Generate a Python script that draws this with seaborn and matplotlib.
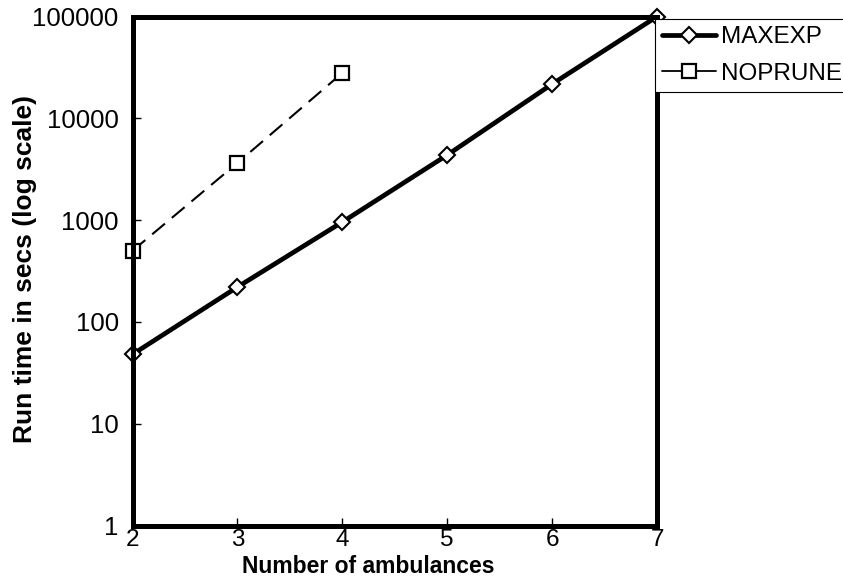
import matplotlib
matplotlib.use("Agg")
import matplotlib.pyplot as plt
from matplotlib.lines import Line2D
import seaborn as sns
import pandas as pd

# Run times (seconds) versus fleet size
ambulances_maxexp = [2, 3, 4, 5, 6, 7]
maxexp_times = [48, 220, 957, 4360, 21700, 100000]
ambulances_noprune = [2, 3, 4]
noprune_times = [500, 3640, 27900]
x_ticks = [2, 3, 4, 5, 6, 7]
y_ticks = [1, 10, 100, 1000, 10000, 100000]

sns.set_theme(style="white")
plt.rcParams["font.family"] = ["Liberation Sans", "DejaVu Sans"]
for key in ("text.color", "axes.labelcolor", "xtick.color", "ytick.color"):
    plt.rcParams[key] = "black"

df_max = pd.DataFrame({"n": ambulances_maxexp, "t": maxexp_times})
df_nop = pd.DataFrame({"n": ambulances_noprune, "t": noprune_times})

fig = plt.figure(figsize=(8.43, 5.81), dpi=100)
ax = fig.add_axes([0.1572, 0.0955, 0.6222, 0.8761])

sns.lineplot(data=df_max, x="n", y="t", ax=ax, color="black", linewidth=3.4,
             marker="D", markersize=8, markerfacecolor="white",
             markeredgecolor="black", markeredgewidth=1.5, legend=False)
sns.lineplot(data=df_nop, x="n", y="t", ax=ax, color="black", linewidth=1.5,
             linestyle=(0, (8, 4.3)), marker="s", markersize=10.5,
             markerfacecolor="white", markeredgecolor="black",
             markeredgewidth=1.6, legend=False)

ax.set_yscale("log")
ax.set_xlim(2, 7)
ax.set_ylim(1, 100000)
ax.set_xticks(x_ticks)
ax.set_xticklabels([str(v) for v in x_ticks])
ax.set_yticks(y_ticks)
ax.set_yticklabels([str(v) for v in y_ticks])
ax.minorticks_off()
ax.tick_params(axis="both", direction="in", length=6, width=1,
               colors="black", left=True, bottom=True)
ax.tick_params(axis="y", pad=10, labelsize=18.5)
ax.tick_params(axis="x", pad=2.5, labelsize=17.5)

for s in ax.spines.values():
    s.set_linewidth(3.6)
    s.set_color("black")

ax.set_xlabel("Number of ambulances", fontsize=16.5, fontweight="bold")
ax.xaxis.label.set_verticalalignment("top")
ax.xaxis.set_label_coords(0.45, -0.057)
ax.set_ylabel("Run time in secs (log scale)", fontsize=19, fontweight="bold")
ax.yaxis.set_label_coords(-0.182, 0.504)

for line in ax.get_lines():
    line.set_clip_on(False)

handles = [
    Line2D([], [], color="black", linewidth=3.4, marker="D", markersize=8,
           markerfacecolor="white", markeredgecolor="black", markeredgewidth=1.5),
    Line2D([], [], color="black", linewidth=1.3, marker="s", markersize=10.5,
           markerfacecolor="white", markeredgecolor="black", markeredgewidth=1.6),
]
leg = fig.legend(handles, ["MAXEXP", "NOPRUNE"], loc="upper left",
                 bbox_to_anchor=(655 / 843, 1 - 19 / 581), frameon=True,
                 fontsize=17.5, handlelength=2.2, handletextpad=0.2,
                 borderpad=0.3, labelspacing=0.6, fancybox=False,
                 borderaxespad=0)
leg.get_frame().set_edgecolor("black")
leg.get_frame().set_linewidth(0.8)
leg.get_frame().set_alpha(1)

fig.savefig("out.png", dpi=100)
